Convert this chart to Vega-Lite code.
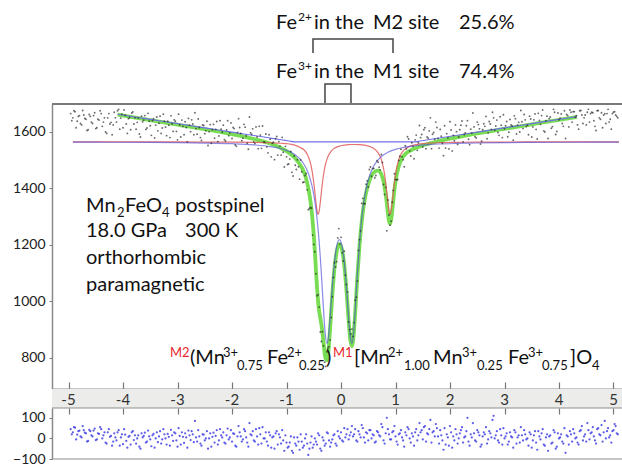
{
"$schema": "https://vega.github.io/schema/vega-lite/v6.json",
"padding": {"left": 12, "top": 10, "right": 0, "bottom": 0},
"spacing": 0,
"bounds": "flush",
"config": {"font": "Lato", "view": {"stroke": null}, "axis": {"labelFont": "Lato"}},
"datasets": {
"pts": [
{"v":-4.96,"y":1665,"r":45},{"v":-4.92,"y":1650,"r":30},{"v":-4.88,"y":1672,"r":52},{"v":-4.84,"y":1638,"r":18},{"v":-4.80,"y":1658,"r":38},{"v":-4.76,"y":1625,"r":5},{"v":-4.72,"y":1660,"r":40},{"v":-4.68,"y":1645,"r":25},{"v":-4.64,"y":1608,"r":-12},{"v":-4.60,"y":1655,"r":35},
{"v":-4.56,"y":1630,"r":10},{"v":-4.52,"y":1668,"r":48},{"v":-4.48,"y":1615,"r":-5},{"v":-4.44,"y":1642,"r":22},{"v":-4.40,"y":1665,"r":45},{"v":-4.36,"y":1635,"r":15},{"v":-4.32,"y":1600,"r":-20},{"v":-4.28,"y":1650,"r":30},{"v":-4.24,"y":1628,"r":8},{"v":-4.20,"y":1590,"r":-35},
{"v":-4.16,"y":1670,"r":25},{"v":-4.12,"y":1635,"r":-10},{"v":-4.08,"y":1680,"r":40},{"v":-4.04,"y":1649,"r":5},{"v":-4.00,"y":1615,"r":-28},{"v":-3.96,"y":1659,"r":18},{"v":-3.92,"y":1595,"r":-45},{"v":-3.88,"y":1651,"r":12},{"v":-3.84,"y":1667,"r":30},{"v":-3.80,"y":1628,"r":-8},
{"v":-3.76,"y":1610,"r":-25},{"v":-3.72,"y":1649,"r":15},{"v":-3.68,"y":1582,"r":-50},{"v":-3.64,"y":1636,"r":5},{"v":-3.60,"y":1658,"r":28},{"v":-3.56,"y":1614,"r":-15},{"v":-3.52,"y":1638,"r":10},{"v":-3.48,"y":1588,"r":-38},{"v":-3.44,"y":1647,"r":22},{"v":-3.40,"y":1624,"r":0},
{"v":-3.36,"y":1604,"r":-18},{"v":-3.32,"y":1656,"r":35},{"v":-3.28,"y":1614,"r":-5},{"v":-3.24,"y":1638,"r":20},{"v":-3.20,"y":1587,"r":-30},{"v":-3.16,"y":1624,"r":8},{"v":-3.12,"y":1657,"r":42},{"v":-3.08,"y":1602,"r":-12},{"v":-3.04,"y":1638,"r":25},{"v":-3.00,"y":1572,"r":-40},
{"v":-2.96,"y":1625,"r":12},{"v":-2.92,"y":1642,"r":30},{"v":-2.88,"y":1590,"r":-22},{"v":-2.84,"y":1616,"r":5},{"v":-2.80,"y":1648,"r":38},{"v":-2.76,"y":1601,"r":-8},{"v":-2.72,"y":1628,"r":20},{"v":-2.68,"y":1668,"r":85},{"v":-2.64,"y":1592,"r":-15},{"v":-2.60,"y":1616,"r":10},
{"v":-2.56,"y":1570,"r":-35},{"v":-2.52,"y":1623,"r":18},{"v":-2.48,"y":1604,"r":0},{"v":-2.44,"y":1552,"r":-50},{"v":-2.40,"y":1626,"r":25},{"v":-2.36,"y":1608,"r":8},{"v":-2.32,"y":1578,"r":-20},{"v":-2.28,"y":1637,"r":40},{"v":-2.24,"y":1586,"r":-10},{"v":-2.20,"y":1610,"r":15},
{"v":-2.16,"y":1624,"r":30},{"v":-2.12,"y":1568,"r":-25},{"v":-2.08,"y":1640,"r":48},{"v":-2.04,"y":1597,"r":5},{"v":-2.00,"y":1577,"r":-15},{"v":-1.96,"y":1612,"r":22},{"v":-1.92,"y":1549,"r":-40},{"v":-1.88,"y":1647,"r":60},{"v":-1.84,"y":1595,"r":10},{"v":-1.80,"y":1578,"r":-5},
{"v":-1.76,"y":1617,"r":35},{"v":-1.72,"y":1560,"r":-20},{"v":-1.68,"y":1653,"r":75},{"v":-1.64,"y":1592,"r":15},{"v":-1.60,"y":1565,"r":-10},{"v":-1.56,"y":1618,"r":45},{"v":-1.52,"y":1541,"r":-30},{"v":-1.48,"y":1589,"r":20},{"v":-1.44,"y":1621,"r":55},{"v":-1.40,"y":1564,"r":0},
{"v":-1.36,"y":1547,"r":-15},{"v":-1.32,"y":1590,"r":30},{"v":-1.28,"y":1512,"r":-45},{"v":-1.24,"y":1564,"r":10},{"v":-1.20,"y":1576,"r":25},{"v":-1.16,"y":1518,"r":-30},{"v":-1.12,"y":1550,"r":5},{"v":-1.08,"y":1581,"r":40},{"v":-1.04,"y":1476,"r":-60},{"v":-1.00,"y":1512,"r":-20},
{"v":-0.96,"y":1487,"r":-40},{"v":-0.92,"y":1531,"r":10},{"v":-0.88,"y":1444,"r":-70},{"v":-0.84,"y":1482,"r":-25},{"v":-0.80,"y":1502,"r":5},{"v":-0.76,"y":1433,"r":-55},{"v":-0.72,"y":1459,"r":-15},{"v":-0.68,"y":1423,"r":-35},{"v":-0.64,"y":1453,"r":20},{"v":-0.60,"y":1325,"r":-80},
{"v":-0.56,"y":1333,"r":-20},{"v":-0.52,"y":1235,"r":-45},{"v":-0.48,"y":1176,"r":0},{"v":-0.44,"y":1020,"r":-30},{"v":-0.40,"y":980,"r":15},{"v":-0.36,"y":858,"r":-60},{"v":-0.32,"y":843,"r":-10},{"v":-0.28,"y":770,"r":-25},{"v":-0.24,"y":835,"r":25},{"v":-0.20,"y":864,"r":-40},
{"v":-0.16,"y":1017,"r":-5},{"v":-0.12,"y":1137,"r":20},{"v":-0.08,"y":1141,"r":-35},{"v":-0.04,"y":1258,"r":10},{"v":0.00,"y":1227,"r":30},{"v":0.04,"y":1143,"r":-15},{"v":0.08,"y":1093,"r":5},{"v":0.12,"y":1033,"r":45},{"v":0.16,"y":900,"r":15},{"v":0.20,"y":902,"r":60},
{"v":0.24,"y":925,"r":20},{"v":0.28,"y":1015,"r":-10},{"v":0.32,"y":1181,"r":35},{"v":0.36,"y":1250,"r":5},{"v":0.40,"y":1365,"r":50},{"v":0.44,"y":1346,"r":-20},{"v":0.48,"y":1427,"r":25},{"v":0.52,"y":1467,"r":40},{"v":0.56,"y":1443,"r":0},{"v":0.60,"y":1471,"r":15},
{"v":0.64,"y":1446,"r":-15},{"v":0.68,"y":1493,"r":30},{"v":0.72,"y":1466,"r":10},{"v":0.76,"y":1492,"r":55},{"v":0.80,"y":1379,"r":-25},{"v":0.84,"y":1250,"r":100},{"v":0.88,"y":1306,"r":20},{"v":0.92,"y":1284,"r":-5},{"v":0.96,"y":1393,"r":35},{"v":1.00,"y":1432,"r":10},
{"v":1.04,"y":1432,"r":-30},{"v":1.08,"y":1514,"r":25},{"v":1.12,"y":1512,"r":5},{"v":1.16,"y":1477,"r":-40},{"v":1.20,"y":1540,"r":15},{"v":1.24,"y":1575,"r":45},{"v":1.28,"y":1515,"r":-20},{"v":1.32,"y":1549,"r":10},{"v":1.36,"y":1572,"r":30},{"v":1.40,"y":1535,"r":-10},
{"v":1.44,"y":1623,"r":75},{"v":1.48,"y":1591,"r":40},{"v":1.52,"y":1608,"r":55},{"v":1.56,"y":1541,"r":-15},{"v":1.60,"y":1578,"r":20},{"v":1.64,"y":1650,"r":90},{"v":1.68,"y":1592,"r":30},{"v":1.72,"y":1574,"r":10},{"v":1.76,"y":1616,"r":50},{"v":1.80,"y":1543,"r":-25},
{"v":1.84,"y":1585,"r":15},{"v":1.88,"y":1516,"r":-55},{"v":1.92,"y":1543,"r":-30},{"v":1.96,"y":1579,"r":5},{"v":2.00,"y":1636,"r":60},{"v":2.04,"y":1533,"r":-45},{"v":2.08,"y":1569,"r":-10},{"v":2.12,"y":1601,"r":20},{"v":2.16,"y":1582,"r":0},{"v":2.20,"y":1624,"r":40},
{"v":2.24,"y":1565,"r":-20},{"v":2.28,"y":1597,"r":10},{"v":2.32,"y":1640,"r":100},{"v":2.36,"y":1555,"r":-35},{"v":2.40,"y":1596,"r":5},{"v":2.44,"y":1618,"r":25},{"v":2.48,"y":1579,"r":-15},{"v":2.52,"y":1626,"r":30},{"v":2.56,"y":1557,"r":-40},{"v":2.60,"y":1608,"r":10},
{"v":2.64,"y":1620,"r":20},{"v":2.68,"y":1576,"r":-25},{"v":2.72,"y":1637,"r":35},{"v":2.76,"y":1609,"r":5},{"v":2.80,"y":1650,"r":110},{"v":2.84,"y":1621,"r":15},{"v":2.88,"y":1598,"r":-10},{"v":2.92,"y":1654,"r":45},{"v":2.96,"y":1580,"r":-30},{"v":3.00,"y":1611,"r":0},
{"v":3.04,"y":1637,"r":25},{"v":3.08,"y":1599,"r":-15},{"v":3.12,"y":1625,"r":10},{"v":3.16,"y":1571,"r":-45},{"v":3.20,"y":1647,"r":30},{"v":3.24,"y":1624,"r":5},{"v":3.28,"y":1600,"r":-20},{"v":3.32,"y":1636,"r":15},{"v":3.36,"y":1662,"r":40},{"v":3.40,"y":1619,"r":-5},
{"v":3.44,"y":1590,"r":-35},{"v":3.48,"y":1646,"r":20},{"v":3.52,"y":1618,"r":-10},{"v":3.56,"y":1664,"r":35},{"v":3.60,"y":1575,"r":-55},{"v":3.64,"y":1641,"r":10},{"v":3.68,"y":1658,"r":25},{"v":3.72,"y":1604,"r":-30},{"v":3.76,"y":1640,"r":5},{"v":3.80,"y":1577,"r":-60},
{"v":3.84,"y":1653,"r":15},{"v":3.88,"y":1619,"r":-20},{"v":3.92,"y":1670,"r":30},{"v":3.96,"y":1602,"r":-40},{"v":4.00,"y":1643,"r":0},{"v":4.04,"y":1664,"r":20},{"v":4.08,"y":1620,"r":-25},{"v":4.12,"y":1577,"r":-70},{"v":4.16,"y":1658,"r":10},{"v":4.20,"y":1678,"r":35},
{"v":4.24,"y":1635,"r":-15},{"v":4.28,"y":1672,"r":25},{"v":4.32,"y":1658,"r":5},{"v":4.36,"y":1610,"r":-30},{"v":4.40,"y":1676,"r":40},{"v":4.44,"y":1630,"r":-10},{"v":4.48,"y":1660,"r":20},{"v":4.52,"y":1670,"r":75},{"v":4.56,"y":1635,"r":-5},{"v":4.60,"y":1670,"r":30},
{"v":4.64,"y":1640,"r":10},{"v":4.68,"y":1605,"r":-25},{"v":4.72,"y":1676,"r":50},{"v":4.76,"y":1645,"r":15},{"v":4.80,"y":1615,"r":-15},{"v":4.84,"y":1665,"r":85},{"v":4.88,"y":1665,"r":35},{"v":4.92,"y":1635,"r":5},{"v":4.96,"y":1610,"r":-20},{"v":5.00,"y":1670,"r":40},
{"v":5.04,"y":1660,"r":60},{"v":5.08,"y":1650,"r":20},
{"v":-4.94,"y":1640,"r":20},{"v":-4.90,"y":1675,"r":55},{"v":-4.86,"y":1615,"r":-5},{"v":-4.82,"y":1655,"r":35},{"v":-4.78,"y":1630,"r":10},{"v":-4.74,"y":1676,"r":60},{"v":-4.70,"y":1648,"r":28},{"v":-4.66,"y":1605,"r":-15},{"v":-4.62,"y":1662,"r":42},{"v":-4.58,"y":1635,"r":15},
{"v":-4.54,"y":1658,"r":38},{"v":-4.50,"y":1612,"r":-8},{"v":-4.46,"y":1645,"r":25},{"v":-4.42,"y":1675,"r":55},{"v":-4.38,"y":1620,"r":0},{"v":-4.34,"y":1650,"r":30},{"v":-4.30,"y":1595,"r":-25},{"v":-4.26,"y":1665,"r":45},{"v":-4.22,"y":1634,"r":12},{"v":-4.18,"y":1625,"r":-15},
{"v":-4.14,"y":1650,"r":5},{"v":-4.10,"y":1675,"r":30},{"v":-4.06,"y":1610,"r":-35},{"v":-4.02,"y":1663,"r":20},{"v":-3.98,"y":1678,"r":45},{"v":-3.94,"y":1628,"r":-12},{"v":-3.90,"y":1647,"r":8},{"v":-3.86,"y":1608,"r":-30},{"v":-3.82,"y":1671,"r":35},{"v":-3.78,"y":1650,"r":15},
{"v":-3.74,"y":1634,"r":0},{"v":-3.70,"y":1593,"r":-40},{"v":-3.66,"y":1656,"r":25},{"v":-3.62,"y":1642,"r":12},{"v":-3.58,"y":1609,"r":-20},{"v":-3.54,"y":1666,"r":38},{"v":-3.50,"y":1622,"r":-5},{"v":-3.46,"y":1640,"r":15},{"v":-3.42,"y":1579,"r":-45},{"v":-3.38,"y":1653,"r":30},
{"v":-3.34,"y":1631,"r":10},{"v":-3.30,"y":1595,"r":-25},{"v":-3.26,"y":1663,"r":45},{"v":-3.22,"y":1617,"r":0},{"v":-3.18,"y":1638,"r":22},{"v":-3.14,"y":1580,"r":-35},{"v":-3.10,"y":1629,"r":15},{"v":-3.06,"y":1643,"r":30},{"v":-3.02,"y":1602,"r":-10},{"v":-2.98,"y":1663,"r":50},
{"v":-2.94,"y":1582,"r":-30},{"v":-2.90,"y":1620,"r":8},{"v":-2.86,"y":1636,"r":25},{"v":-2.82,"y":1565,"r":-45},{"v":-2.78,"y":1624,"r":15},{"v":-2.74,"y":1643,"r":35},{"v":-2.70,"y":1590,"r":-18},{"v":-2.66,"y":1612,"r":5},{"v":-2.62,"y":1646,"r":40},{"v":-2.58,"y":1580,"r":-25},
{"v":-2.54,"y":1625,"r":20},{"v":-2.50,"y":1594,"r":-10},{"v":-2.46,"y":1638,"r":35},{"v":-2.42,"y":1601,"r":0},{"v":-2.38,"y":1560,"r":-40},{"v":-2.34,"y":1627,"r":28},{"v":-2.30,"y":1609,"r":12},{"v":-2.26,"y":1566,"r":-30},{"v":-2.22,"y":1640,"r":45},{"v":-2.18,"y":1599,"r":5},
{"v":-2.14,"y":1573,"r":-20},{"v":-2.10,"y":1607,"r":15},{"v":-2.06,"y":1587,"r":-5},{"v":-2.02,"y":1632,"r":40},{"v":-1.98,"y":1616,"r":25},{"v":-1.94,"y":1554,"r":-35},{"v":-1.90,"y":1598,"r":10},{"v":-1.86,"y":1616,"r":30},{"v":-1.82,"y":1569,"r":-15},{"v":-1.78,"y":1627,"r":45},
{"v":-1.74,"y":1586,"r":5},{"v":-1.70,"y":1539,"r":-40},{"v":-1.66,"y":1597,"r":20},{"v":-1.62,"y":1611,"r":35},{"v":-1.58,"y":1559,"r":-15},{"v":-1.54,"y":1582,"r":10},{"v":-1.50,"y":1620,"r":50},{"v":-1.46,"y":1542,"r":-25},{"v":-1.42,"y":1565,"r":0},{"v":-1.38,"y":1593,"r":30},
{"v":-1.34,"y":1526,"r":-35},{"v":-1.30,"y":1574,"r":15},{"v":-1.26,"y":1560,"r":5},{"v":-1.22,"y":1502,"r":-50},{"v":-1.18,"y":1584,"r":35},{"v":-1.14,"y":1566,"r":20},{"v":-1.10,"y":1518,"r":-25},{"v":-1.06,"y":1528,"r":-10},{"v":-1.02,"y":1549,"r":15},{"v":-0.98,"y":1485,"r":-45},
{"v":-0.94,"y":1504,"r":-20},{"v":-0.90,"y":1457,"r":-60},{"v":-0.86,"y":1515,"r":5},{"v":-0.82,"y":1467,"r":-35},{"v":-0.78,"y":1477,"r":-15},{"v":-0.74,"y":1501,"r":20},{"v":-0.70,"y":1421,"r":-45},{"v":-0.66,"y":1446,"r":0},{"v":-0.62,"y":1395,"r":-25},{"v":-0.58,"y":1329,"r":-50},
{"v":-0.54,"y":1330,"r":10},{"v":-0.50,"y":1202,"r":-30},{"v":-0.46,"y":1098,"r":-15},{"v":-0.42,"y":1024,"r":25},{"v":-0.38,"y":892,"r":-50},{"v":-0.34,"y":893,"r":5},{"v":-0.30,"y":785,"r":-35},{"v":-0.26,"y":822,"r":30},{"v":-0.22,"y":840,"r":-10},{"v":-0.18,"y":943,"r":-20},
{"v":-0.14,"y":1085,"r":15},{"v":-0.10,"y":1122,"r":-25},{"v":-0.06,"y":1225,"r":35},{"v":-0.02,"y":1203,"r":0},{"v":0.02,"y":1172,"r":-10},{"v":0.06,"y":1178,"r":50},{"v":0.10,"y":1060,"r":20},{"v":0.14,"y":927,"r":-5},{"v":0.18,"y":885,"r":30},{"v":0.22,"y":876,"r":10},
{"v":0.26,"y":1004,"r":45},{"v":0.30,"y":1072,"r":-15},{"v":0.34,"y":1219,"r":20},{"v":0.38,"y":1347,"r":65},{"v":0.42,"y":1347,"r":5},{"v":0.46,"y":1415,"r":30},{"v":0.50,"y":1405,"r":-10},{"v":0.54,"y":1476,"r":40},{"v":0.58,"y":1470,"r":20},{"v":0.62,"y":1438,"r":-20},
{"v":0.66,"y":1498,"r":35},{"v":0.70,"y":1475,"r":15},{"v":0.74,"y":1520,"r":70},{"v":0.78,"y":1414,"r":-10},{"v":0.82,"y":1404,"r":25},{"v":0.86,"y":1359,"r":45},{"v":0.90,"y":1270,"r":-5},{"v":0.94,"y":1351,"r":30},{"v":0.98,"y":1452,"r":60},{"v":1.02,"y":1430,"r":-15},
{"v":1.06,"y":1499,"r":20},{"v":1.10,"y":1539,"r":40},{"v":1.14,"y":1502,"r":-10},{"v":1.18,"y":1551,"r":30},{"v":1.22,"y":1583,"r":55},{"v":1.26,"y":1533,"r":0},{"v":1.30,"y":1562,"r":25},{"v":1.34,"y":1505,"r":-35},{"v":1.38,"y":1589,"r":45},{"v":1.42,"y":1562,"r":15},
{"v":1.46,"y":1580,"r":30},{"v":1.50,"y":1547,"r":-5},{"v":1.54,"y":1615,"r":60},{"v":1.58,"y":1582,"r":25},{"v":1.62,"y":1604,"r":45},{"v":1.66,"y":1541,"r":-20},{"v":1.70,"y":1598,"r":35},{"v":1.74,"y":1635,"r":70},{"v":1.78,"y":1577,"r":10},{"v":1.82,"y":1609,"r":40},
{"v":1.86,"y":1560,"r":-10},{"v":1.90,"y":1622,"r":50},{"v":1.94,"y":1594,"r":20},{"v":1.98,"y":1540,"r":-35},{"v":2.02,"y":1607,"r":30},{"v":2.06,"y":1588,"r":10},{"v":2.10,"y":1625,"r":45},{"v":2.14,"y":1556,"r":-25},{"v":2.18,"y":1608,"r":25},{"v":2.22,"y":1639,"r":55},
{"v":2.26,"y":1591,"r":5},{"v":2.30,"y":1622,"r":35},{"v":2.34,"y":1574,"r":-15},{"v":2.38,"y":1610,"r":20},{"v":2.42,"y":1667,"r":75},{"v":2.46,"y":1583,"r":-10},{"v":2.50,"y":1635,"r":40},{"v":2.54,"y":1611,"r":15},{"v":2.58,"y":1567,"r":-30},{"v":2.62,"y":1629,"r":30},
{"v":2.66,"y":1655,"r":55},{"v":2.70,"y":1597,"r":-5},{"v":2.74,"y":1628,"r":25},{"v":2.78,"y":1670,"r":90},{"v":2.82,"y":1606,"r":0},{"v":2.86,"y":1642,"r":35},{"v":2.90,"y":1588,"r":-20},{"v":2.94,"y":1624,"r":15},{"v":2.98,"y":1661,"r":50},{"v":3.02,"y":1622,"r":10},
{"v":3.06,"y":1583,"r":-30},{"v":3.10,"y":1644,"r":30},{"v":3.14,"y":1621,"r":5},{"v":3.18,"y":1657,"r":40},{"v":3.22,"y":1593,"r":-25},{"v":3.26,"y":1634,"r":15},{"v":3.30,"y":1676,"r":55},{"v":3.34,"y":1612,"r":-10},{"v":3.38,"y":1643,"r":20},{"v":3.42,"y":1624,"r":0},
{"v":3.46,"y":1656,"r":30},{"v":3.50,"y":1582,"r":-45},{"v":3.54,"y":1643,"r":15},{"v":3.58,"y":1609,"r":-20},{"v":3.62,"y":1666,"r":35},{"v":3.66,"y":1627,"r":-5},{"v":3.70,"y":1678,"r":45},{"v":3.74,"y":1600,"r":-35},{"v":3.78,"y":1656,"r":20},{"v":3.82,"y":1647,"r":10},
{"v":3.86,"y":1613,"r":-25},{"v":3.90,"y":1680,"r":40},{"v":3.94,"y":1591,"r":-50},{"v":3.98,"y":1667,"r":25},{"v":4.02,"y":1649,"r":5},{"v":4.06,"y":1630,"r":-15},{"v":4.10,"y":1675,"r":50},{"v":4.14,"y":1662,"r":15},{"v":4.18,"y":1618,"r":-30},{"v":4.22,"y":1670,"r":20},
{"v":4.26,"y":1672,"r":45},{"v":4.30,"y":1652,"r":0},{"v":4.34,"y":1625,"r":-20},{"v":4.38,"y":1675,"r":35},{"v":4.42,"y":1660,"r":60},{"v":4.46,"y":1650,"r":10},{"v":4.50,"y":1625,"r":-15},{"v":4.54,"y":1680,"r":40},{"v":4.58,"y":1665,"r":25},{"v":4.62,"y":1668,"r":55},
{"v":4.66,"y":1620,"r":-10},{"v":4.70,"y":1675,"r":45},{"v":4.74,"y":1650,"r":20},{"v":4.78,"y":1668,"r":65},{"v":4.82,"y":1660,"r":30},{"v":4.86,"y":1630,"r":0},{"v":4.90,"y":1680,"r":50},{"v":4.94,"y":1645,"r":15},{"v":4.98,"y":1665,"r":35},{"v":5.02,"y":1672,"r":70},
{"v":5.06,"y":1655,"r":25}
],
"cur": [
{"s":"r","v":-4.92,"y":1564.8},{"s":"r","v":-4.5,"y":1564.8},{"s":"r","v":-4.1,"y":1564.8},{"s":"r","v":-3.5,"y":1564.7},{"s":"r","v":-3,"y":1564.6},{"s":"r","v":-2.5,"y":1564.3},{"s":"r","v":-2,"y":1563.9},{"s":"r","v":-1.6,"y":1563.2},{"s":"r","v":-1.3,"y":1561.9},{"s":"r","v":-1.1,"y":1560.1},{"s":"r","v":-0.95,"y":1557.3},{"s":"r","v":-0.85,"y":1553.6},{"s":"r","v":-0.75,"y":1545.3},{"s":"r","v":-0.68,"y":1536.9},{"s":"r","v":-0.62,"y":1521.2},{"s":"r","v":-0.57,"y":1496.5},{"s":"r","v":-0.53,"y":1461.7},{"s":"r","v":-0.49,"y":1405},{"s":"r","v":-0.46,"y":1351},{"s":"r","v":-0.44,"y":1320.9},{"s":"r","v":-0.42,"y":1308.8},{"s":"r","v":-0.40,"y":1320.8},{"s":"r","v":-0.38,"y":1350.8},{"s":"r","v":-0.35,"y":1404.8},{"s":"r","v":-0.32,"y":1449.5},{"s":"r","v":-0.29,"y":1480.9},{"s":"r","v":-0.26,"y":1502.2},{"s":"r","v":-0.23,"y":1516.7},{"s":"r","v":-0.20,"y":1526.7},{"s":"r","v":-0.16,"y":1535.9},{"s":"r","v":-0.12,"y":1542},{"s":"r","v":-0.08,"y":1546.2},{"s":"r","v":-0.03,"y":1549.7},{"s":"r","v":0.02,"y":1552.1},{"s":"r","v":0.06,"y":1553.4},{"s":"r","v":0.10,"y":1554.4},{"s":"r","v":0.14,"y":1555.1},{"s":"r","v":0.20,"y":1555.6},{"s":"r","v":0.26,"y":1555.7},{"s":"r","v":0.30,"y":1555.5},{"s":"r","v":0.34,"y":1555.1},{"s":"r","v":0.39,"y":1554.2},{"s":"r","v":0.45,"y":1552.5},{"s":"r","v":0.52,"y":1549.1},{"s":"r","v":0.60,"y":1542},{"s":"r","v":0.68,"y":1526.7},{"s":"r","v":0.74,"y":1502.2},{"s":"r","v":0.79,"y":1461.3},{"s":"r","v":0.83,"y":1404.8},{"s":"r","v":0.86,"y":1350.8},{"s":"r","v":0.88,"y":1320.8},{"s":"r","v":0.90,"y":1308.8},{"s":"r","v":0.92,"y":1320.8},{"s":"r","v":0.94,"y":1351},{"s":"r","v":0.97,"y":1405},{"s":"r","v":1.01,"y":1461.7},{"s":"r","v":1.06,"y":1502.8},{"s":"r","v":1.12,"y":1527.6},{"s":"r","v":1.2,"y":1543.2},{"s":"r","v":1.3,"y":1552},{"s":"r","v":1.45,"y":1557.8},{"s":"r","v":1.6,"y":1560.4},{"s":"r","v":1.8,"y":1562.1},{"s":"r","v":2.1,"y":1563.3},{"s":"r","v":2.5,"y":1564},{"s":"r","v":3,"y":1564.4},{"s":"r","v":3.5,"y":1564.6},{"s":"r","v":4,"y":1564.7},{"s":"r","v":4.7,"y":1564.8},{"s":"r","v":5.1,"y":1564.8},
{"s":"b","v":-4.92,"y":1563.9},{"s":"b","v":-4.5,"y":1563.7},{"s":"b","v":-4.1,"y":1563.5},{"s":"b","v":-3.5,"y":1562.9},{"s":"b","v":-3,"y":1562.1},{"s":"b","v":-2.5,"y":1560.8},{"s":"b","v":-2,"y":1558.4},{"s":"b","v":-1.6,"y":1554.4},{"s":"b","v":-1.3,"y":1548.3},{"s":"b","v":-1.1,"y":1540.6},{"s":"b","v":-0.95,"y":1530.7},{"s":"b","v":-0.85,"y":1520.1},{"s":"b","v":-0.75,"y":1503.6},{"s":"b","v":-0.68,"y":1485.8},{"s":"b","v":-0.62,"y":1463.4},{"s":"b","v":-0.57,"y":1436.7},{"s":"b","v":-0.53,"y":1407.3},{"s":"b","v":-0.49,"y":1367.1},{"s":"b","v":-0.46,"y":1326.7},{"s":"b","v":-0.44,"y":1293.7},{"s":"b","v":-0.42,"y":1254.7},{"s":"b","v":-0.40,"y":1209.1},{"s":"b","v":-0.38,"y":1156.4},{"s":"b","v":-0.35,"y":1065.1},{"s":"b","v":-0.32,"y":968.2},{"s":"b","v":-0.29,"y":887.3},{"s":"b","v":-0.26,"y":851.1},{"s":"b","v":-0.23,"y":874.3},{"s":"b","v":-0.20,"y":941.8},{"s":"b","v":-0.16,"y":1050.6},{"s":"b","v":-0.12,"y":1139.5},{"s":"b","v":-0.08,"y":1195},{"s":"b","v":-0.03,"y":1218.8},{"s":"b","v":0.02,"y":1195},{"s":"b","v":0.06,"y":1139.5},{"s":"b","v":0.10,"y":1050.6},{"s":"b","v":0.14,"y":941.8},{"s":"b","v":0.17,"y":874.3},{"s":"b","v":0.20,"y":851.1},{"s":"b","v":0.23,"y":887.3},{"s":"b","v":0.26,"y":968.2},{"s":"b","v":0.30,"y":1096.9},{"s":"b","v":0.34,"y":1209.1},{"s":"b","v":0.39,"y":1310.9},{"s":"b","v":0.45,"y":1388.7},{"s":"b","v":0.52,"y":1442.8},{"s":"b","v":0.60,"y":1479.2},{"s":"b","v":0.68,"y":1501.5},{"s":"b","v":0.74,"y":1512.8},{"s":"b","v":0.79,"y":1520.1},{"s":"b","v":0.86,"y":1527.9},{"s":"b","v":0.94,"y":1534.6},{"s":"b","v":1.01,"y":1539},{"s":"b","v":1.12,"y":1544.2},{"s":"b","v":1.2,"y":1547},{"s":"b","v":1.3,"y":1549.8},{"s":"b","v":1.45,"y":1552.9},{"s":"b","v":1.6,"y":1555.2},{"s":"b","v":1.8,"y":1557.3},{"s":"b","v":2.1,"y":1559.3},{"s":"b","v":2.5,"y":1561},{"s":"b","v":3,"y":1562.3},{"s":"b","v":3.5,"y":1563},{"s":"b","v":4,"y":1563.5},{"s":"b","v":4.7,"y":1563.9},{"s":"b","v":5.1,"y":1564},
{"s":"g","v":-4.1,"y":1661},{"s":"g","v":-3.5,"y":1642},{"s":"g","v":-3,"y":1626},{"s":"g","v":-2.5,"y":1610},{"s":"g","v":-2,"y":1592},{"s":"g","v":-1.6,"y":1575},{"s":"g","v":-1.3,"y":1559},{"s":"g","v":-1.1,"y":1543},{"s":"g","v":-0.95,"y":1526},{"s":"g","v":-0.85,"y":1509},{"s":"g","v":-0.75,"y":1484},{"s":"g","v":-0.68,"y":1458},{"s":"g","v":-0.62,"y":1420},{"s":"g","v":-0.57,"y":1368},{"s":"g","v":-0.53,"y":1304},{"s":"g","v":-0.49,"y":1207},{"s":"g","v":-0.46,"y":1113},{"s":"g","v":-0.44,"y":1050},{"s":"g","v":-0.42,"y":999},{"s":"g","v":-0.40,"y":965},{"s":"g","v":-0.38,"y":942},{"s":"g","v":-0.35,"y":905},{"s":"g","v":-0.32,"y":853},{"s":"g","v":-0.29,"y":803},{"s":"g","v":-0.26,"y":792},{"s":"g","v":-0.23,"y":826},{"s":"g","v":-0.20,"y":904},{"s":"g","v":-0.16,"y":1022},{"s":"g","v":-0.12,"y":1117},{"s":"g","v":-0.08,"y":1176},{"s":"g","v":-0.03,"y":1204},{"s":"g","v":0.02,"y":1182},{"s":"g","v":0.06,"y":1128},{"s":"g","v":0.10,"y":1040},{"s":"g","v":0.14,"y":932},{"s":"g","v":0.17,"y":865},{"s":"g","v":0.20,"y":842},{"s":"g","v":0.23,"y":878},{"s":"g","v":0.26,"y":959},{"s":"g","v":0.30,"y":1087},{"s":"g","v":0.34,"y":1199},{"s":"g","v":0.39,"y":1300},{"s":"g","v":0.45,"y":1376},{"s":"g","v":0.52,"y":1427},{"s":"g","v":0.60,"y":1456},{"s":"g","v":0.68,"y":1463},{"s":"g","v":0.74,"y":1450},{"s":"g","v":0.79,"y":1416},{"s":"g","v":0.83,"y":1365},{"s":"g","v":0.86,"y":1314},{"s":"g","v":0.88,"y":1286},{"s":"g","v":0.90,"y":1275},{"s":"g","v":0.92,"y":1289},{"s":"g","v":0.94,"y":1321},{"s":"g","v":0.97,"y":1377},{"s":"g","v":1.01,"y":1436},{"s":"g","v":1.06,"y":1479},{"s":"g","v":1.12,"y":1507},{"s":"g","v":1.2,"y":1525},{"s":"g","v":1.3,"y":1537},{"s":"g","v":1.45,"y":1549},{"s":"g","v":1.6,"y":1558},{"s":"g","v":1.8,"y":1568},{"s":"g","v":2.1,"y":1580},{"s":"g","v":2.5,"y":1595},{"s":"g","v":3,"y":1611},{"s":"g","v":3.5,"y":1627},{"s":"g","v":4,"y":1643},{"s":"g","v":4.33,"y":1653},
{"s":"u","v":-4.1,"y":1662.5},{"s":"u","v":-3.5,"y":1644.5},{"s":"u","v":-3,"y":1629.5},{"s":"u","v":-2.5,"y":1614.5},{"s":"u","v":-2,"y":1599.5},{"s":"u","v":-1.6,"y":1587.5},{"s":"u","v":-1.3,"y":1578.5},{"s":"u","v":-1.1,"y":1572.5},{"s":"u","v":-0.95,"y":1568},{"s":"u","v":-0.85,"y":1565},{"s":"u","v":1.35,"y":1565},{"s":"u","v":1.45,"y":1568},{"s":"u","v":1.6,"y":1572.5},{"s":"u","v":1.8,"y":1578.5},{"s":"u","v":2.1,"y":1587.5},{"s":"u","v":2.5,"y":1599.5},{"s":"u","v":3,"y":1614.5},{"s":"u","v":3.5,"y":1629.5},{"s":"u","v":4,"y":1644.5},{"s":"u","v":4.33,"y":1654.4}
],
"ann": [
{"t":"M2","v":-3.138,"y":778.8,"k":"fr"},{"t":"(Mn","v":-2.771,"y":778.8,"k":"f"},{"t":"3+","v":-2.165,"y":778.8,"k":"fs"},{"t":"0.75","v":-1.908,"y":778.8,"k":"fb"},{"t":"Fe","v":-1.358,"y":778.8,"k":"f"},{"t":"2+","v":-0.991,"y":778.8,"k":"fs"},{"t":"0.25","v":-0.771,"y":778.8,"k":"fb"},{"t":")","v":-0.275,"y":778.8,"k":"f"},{"t":"M1","v":-0.147,"y":778.8,"k":"fr"},{"t":"[Mn","v":0.239,"y":778.8,"k":"f"},{"t":"2+","v":0.862,"y":778.8,"k":"fs"},{"t":"1.00","v":1.156,"y":778.8,"k":"fb"},{"t":"Mn","v":1.688,"y":778.8,"k":"f"},{"t":"3+","v":2.22,"y":778.8,"k":"fs"},{"t":"0.25","v":2.495,"y":778.8,"k":"fb"},{"t":"Fe","v":3.064,"y":778.8,"k":"f"},{"t":"3+","v":3.431,"y":778.8,"k":"fs"},{"t":"0.75","v":3.688,"y":778.8,"k":"fb"},{"t":"]O","v":4.202,"y":778.8,"k":"f"},{"t":"4","v":4.606,"y":778.8,"k":"fb"},
{"t":"Mn","v":-4.679,"y":1316.8,"k":"n"},{"t":"2","v":-4.11,"y":1316.8,"k":"nb"},{"t":"FeO","v":-3.963,"y":1316.8,"k":"n"},{"t":"4","v":-3.284,"y":1316.8,"k":"nb"},{"t":"postspinel","v":-3.046,"y":1316.8,"k":"n"},
{"t":"18.0 GPa","v":-4.679,"y":1228.3,"k":"n"},{"t":"300 K","v":-2.862,"y":1228.3,"k":"n"},{"t":"orthorhombic","v":-4.679,"y":1132.7,"k":"n"},{"t":"paramagnetic","v":-4.679,"y":1037.2,"k":"n"},
{"t":"Fe","v":-1.193,"y":1964.6,"k":"n"},{"t":"2+","v":-0.789,"y":1964.6,"k":"ts"},{"t":"in the","v":-0.495,"y":1964.6,"k":"n"},{"t":"M2 site","v":0.587,"y":1964.6,"k":"n"},{"t":"25.6%","v":2.165,"y":1964.6,"k":"n"},
{"t":"Fe","v":-1.193,"y":1791.2,"k":"n"},{"t":"3+","v":-0.789,"y":1791.2,"k":"ts"},{"t":"in the","v":-0.495,"y":1791.2,"k":"n"},{"t":"M1 site","v":0.587,"y":1791.2,"k":"n"},{"t":"74.4%","v":2.165,"y":1791.2,"k":"n"}
],
"br": [
{"g":1,"o":1,"v":-0.514,"y":1879.6},{"g":1,"o":2,"v":-0.514,"y":1929.2},{"g":1,"o":3,"v":0.954,"y":1929.2},{"g":1,"o":4,"v":0.954,"y":1879.6},
{"g":2,"o":1,"v":-0.294,"y":1699.1},{"g":2,"o":2,"v":-0.294,"y":1769.9},{"g":2,"o":3,"v":0.183,"y":1769.9},{"g":2,"o":4,"v":0.183,"y":1699.1}
],
"tk": [
{"v":-5,"t":"-5"},{"v":-4,"t":"-4"},{"v":-3,"t":"-3"},{"v":-2,"t":"-2"},{"v":-1,"t":"-1"},{"v":0,"t":"0"},{"v":1,"t":"1"},{"v":2,"t":"2"},{"v":3,"t":"3"},{"v":4,"t":"4"},{"v":5,"t":"5"}
]
},
"vconcat": [
{
"width": 570, "height": 285,
"layer": [
{
"encoding": {
"x": {"field": "v", "type": "quantitative", "scale": {"domain": [-5.303, 5.156], "nice": false, "zero": false},
"axis": {"orient": "bottom", "values": [-5,-4,-3,-2,-1,0,1,2,3,4,5], "labels": false, "domain": false, "grid": false, "tickSize": -7, "tickColor": "#777777", "tickWidth": 1.2, "title": null}},
"y": {"field": "y", "type": "quantitative", "scale": {"domain": [690, 1699], "nice": false, "zero": false},
"axis": {"values": [800,1000,1200,1400,1600], "format": "d", "domain": true, "domainColor": "#8a8a8a", "domainWidth": 1.5, "grid": false, "tickSize": 3, "tickColor": "#777777", "labelFontSize": 14, "labelColor": "#222222", "labelPadding": 4, "title": null}}
},
"layer": [
{"data": {"name": "cur"}, "transform": [{"filter": "datum.s == 'g'"}], "mark": {"type": "line", "interpolate": "monotone", "color": "#78dd52", "strokeWidth": 3.8}},
{"data": {"name": "cur"}, "transform": [{"filter": "datum.s == 'u'"}], "mark": {"type": "line", "interpolate": "monotone", "color": "#7272e6", "strokeWidth": 1.1}},
{"data": {"name": "cur"}, "transform": [{"filter": "datum.s == 'r'"}], "mark": {"type": "line", "interpolate": "monotone", "color": "#e05a5a", "strokeWidth": 1.2, "opacity": 0.85}},
{"data": {"name": "cur"}, "transform": [{"filter": "datum.s == 'b'"}], "mark": {"type": "line", "interpolate": "monotone", "color": "#4c4cdc", "strokeWidth": 1.2, "opacity": 0.65}},
{"data": {"name": "pts"}, "mark": {"type": "circle", "size": 3.5, "color": "#2a2a2a", "opacity": 0.7}},
{"data": {"name": "br"}, "mark": {"type": "line", "color": "#444444", "strokeWidth": 1.5}, "encoding": {"detail": {"field": "g"}, "order": {"field": "o", "type": "quantitative"}}},
{"data": {"name": "ann"}, "transform": [{"filter": "datum.k == 'f'"}], "mark": {"type": "text", "align": "left", "baseline": "alphabetic", "fontSize": 20, "color": "#111111"}, "encoding": {"text": {"field": "t"}}},
{"data": {"name": "ann"}, "transform": [{"filter": "datum.k == 'fs'"}], "mark": {"type": "text", "align": "left", "baseline": "alphabetic", "fontSize": 13, "dy": -7, "color": "#111111"}, "encoding": {"text": {"field": "t"}}},
{"data": {"name": "ann"}, "transform": [{"filter": "datum.k == 'fb'"}], "mark": {"type": "text", "align": "left", "baseline": "alphabetic", "fontSize": 13, "dy": 6, "color": "#111111"}, "encoding": {"text": {"field": "t"}}},
{"data": {"name": "ann"}, "transform": [{"filter": "datum.k == 'fr'"}], "mark": {"type": "text", "align": "left", "baseline": "alphabetic", "fontSize": 13, "dy": -7, "color": "#e8262b"}, "encoding": {"text": {"field": "t"}}},
{"data": {"name": "ann"}, "transform": [{"filter": "datum.k == 'n'"}], "mark": {"type": "text", "align": "left", "baseline": "alphabetic", "fontSize": 20, "color": "#111111"}, "encoding": {"text": {"field": "t"}}},
{"data": {"name": "ann"}, "transform": [{"filter": "datum.k == 'nb'"}], "mark": {"type": "text", "align": "left", "baseline": "alphabetic", "fontSize": 13, "dy": 5, "color": "#111111"}, "encoding": {"text": {"field": "t"}}},
{"data": {"name": "ann"}, "transform": [{"filter": "datum.k == 'ts'"}], "mark": {"type": "text", "align": "left", "baseline": "alphabetic", "fontSize": 12, "dy": -8, "color": "#111111"}, "encoding": {"text": {"field": "t"}}}
]
},
{"data": {"values": [{}]}, "mark": {"type": "rule", "color": "#7a7a7a", "strokeWidth": 2}, "encoding": {"y": {"datum": 1699, "type": "quantitative", "scale": {"domain": [690, 1699], "nice": false, "zero": false},
"axis": {"values": [800,1000,1200,1400,1600], "format": "d", "domain": true, "domainColor": "#8a8a8a", "domainWidth": 1.5, "grid": false, "tickSize": 3, "tickColor": "#777777", "labelFontSize": 14, "labelColor": "#222222", "labelPadding": 4, "title": null}}}},
{"data": {"values": [{}]}, "mark": {"type": "rule", "color": "#8c8c8c", "strokeWidth": 1.2}, "encoding": {"y": {"datum": 690, "type": "quantitative", "scale": {"domain": [690, 1699], "nice": false, "zero": false},
"axis": {"values": [800,1000,1200,1400,1600], "format": "d", "domain": true, "domainColor": "#8a8a8a", "domainWidth": 1.5, "grid": false, "tickSize": 3, "tickColor": "#777777", "labelFontSize": 14, "labelColor": "#222222", "labelPadding": 4, "title": null}}}}
]
},
{
"width": 570, "height": 19,
"view": {"fill": "#ececea", "stroke": null},
"data": {"name": "tk"},
"mark": {"type": "text", "baseline": "middle", "align": "center", "fontSize": 15, "color": "#333333", "dy": 1},
"encoding": {
"x": {"field": "v", "type": "quantitative", "scale": {"domain": [-5.303, 5.156], "nice": false, "zero": false}, "axis": null},
"text": {"field": "t"}
}
},
{
"width": 570, "height": 51,
"layer": [
{"data": {"name": "pts"}, "mark": {"type": "circle", "size": 5, "color": "#4a4ae6", "opacity": 0.9},
"encoding": {
"x": {"field": "v", "type": "quantitative", "scale": {"domain": [-5.303, 5.156], "nice": false, "zero": false},
"axis": {"orient": "top", "values": [-5,-4,-3,-2,-1,0,1,2,3,4,5], "labels": false, "domain": false, "grid": false, "tickSize": -6, "tickColor": "#777777", "tickWidth": 1.2, "title": null}},
"y": {"field": "r", "type": "quantitative", "scale": {"domain": [-100, 148], "nice": false, "zero": false},
"axis": {"values": [-100, 0, 100], "format": "d", "domain": true, "domainColor": "#8a8a8a", "domainWidth": 1.5, "grid": false, "tickSize": 3, "tickColor": "#777777", "labelFontSize": 14, "labelColor": "#222222", "labelPadding": 4, "title": null}}
}},
{"data": {"values": [{}]}, "mark": {"type": "rule", "color": "#8c8c8c", "strokeWidth": 1.2}, "encoding": {"y": {"datum": 148, "type": "quantitative", "scale": {"domain": [-100, 148], "nice": false, "zero": false},
"axis": {"values": [-100, 0, 100], "format": "d", "domain": true, "domainColor": "#8a8a8a", "domainWidth": 1.5, "grid": false, "tickSize": 3, "tickColor": "#777777", "labelFontSize": 14, "labelColor": "#222222", "labelPadding": 4, "title": null}}}},
{"data": {"values": [{}]}, "mark": {"type": "rule", "color": "#8c8c8c", "strokeWidth": 1.2}, "encoding": {"y": {"datum": -100, "type": "quantitative", "scale": {"domain": [-100, 148], "nice": false, "zero": false},
"axis": {"values": [-100, 0, 100], "format": "d", "domain": true, "domainColor": "#8a8a8a", "domainWidth": 1.5, "grid": false, "tickSize": 3, "tickColor": "#777777", "labelFontSize": 14, "labelColor": "#222222", "labelPadding": 4, "title": null}}}}
]
}
]
}
